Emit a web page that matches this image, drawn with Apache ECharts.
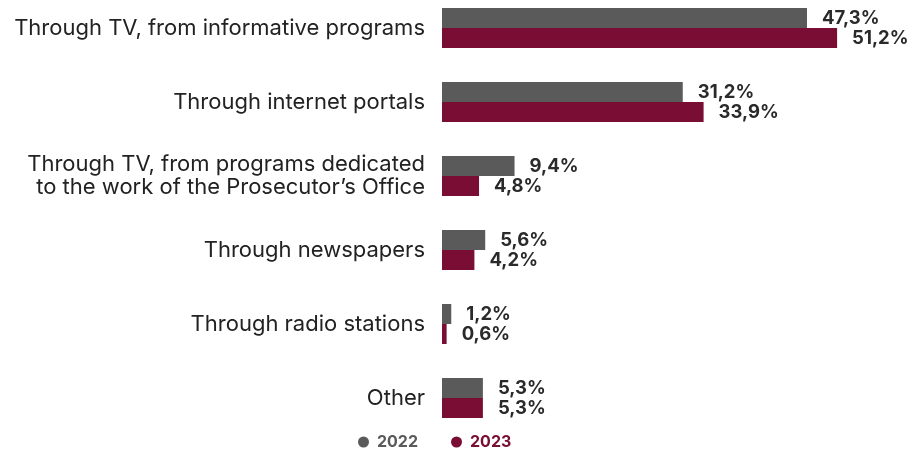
<!DOCTYPE html>
<html><head><meta charset="utf-8">
<script src="https://cdn.jsdelivr.net/npm/echarts@6/dist/echarts.min.js"></script>
<style>html,body{margin:0;padding:0;background:#fff;overflow:hidden}#c{position:absolute;left:0;top:-9px;width:908px;height:460px}</style>
</head><body><div id="c"></div>
<script>
const categories = [
  "Through TV, from informative programs",
  "Through internet portals",
  "Through TV, from programs dedicated\nto the work of the Prosecutor\u2019s Office",
  "Through newspapers",
  "Through radio stations",
  "Other"
];
const values2022 = [47.3, 31.2, 9.4, 5.6, 1.2, 5.3];
const values2023 = [51.2, 33.9, 4.8, 4.2, 0.6, 5.3];
const seriesNames = ["2022", "2023"];
const colors = ["#5a5a5b", "#7a0d33"];

const chart = echarts.init(document.getElementById('c'));
const fmt = p => p.value.toFixed(1).replace('.', ',') + '%';
const labelStyle = {show: true, position: 'right', distance: 15, formatter: fmt,
  fontFamily: 'Inter, sans-serif', fontWeight: 'bold', fontSize: 18.5, color: '#2a2a2a'};
chart.setOption({
  animation: false,
  grid: {left: 442, right: 3, top: 0, height: 444, containLabel: false},
  legend: {
    top: 443, left: 358, padding: 0, icon: 'circle', itemWidth: 11, itemHeight: 11, itemGap: 33,
    data: [
      {name: seriesNames[0], textStyle: {color: colors[0]}},
      {name: seriesNames[1], textStyle: {color: colors[1]}}
    ],
    textStyle: {fontFamily: 'Inter, sans-serif', fontWeight: 'bold', fontSize: 16, padding: [0, 0, 0, 3]}
  },
  xAxis: {type: 'value', min: 0, max: 60, show: false},
  yAxis: {
    type: 'category', inverse: true, data: categories,
    axisLine: {show: false}, axisTick: {show: false},
    axisLabel: {margin: 17, fontFamily: 'Inter, sans-serif', fontSize: 22, color: '#222', lineHeight: 23, align: 'right'}
  },
  series: [
    {name: seriesNames[0], type: 'bar', data: values2022, barWidth: 20, barGap: '0%',
     itemStyle: {color: colors[0]}, label: labelStyle},
    {name: seriesNames[1], type: 'bar', data: values2023, barWidth: 20, barGap: '0%',
     itemStyle: {color: colors[1]}, label: labelStyle}
  ]
});
</script></body></html>
